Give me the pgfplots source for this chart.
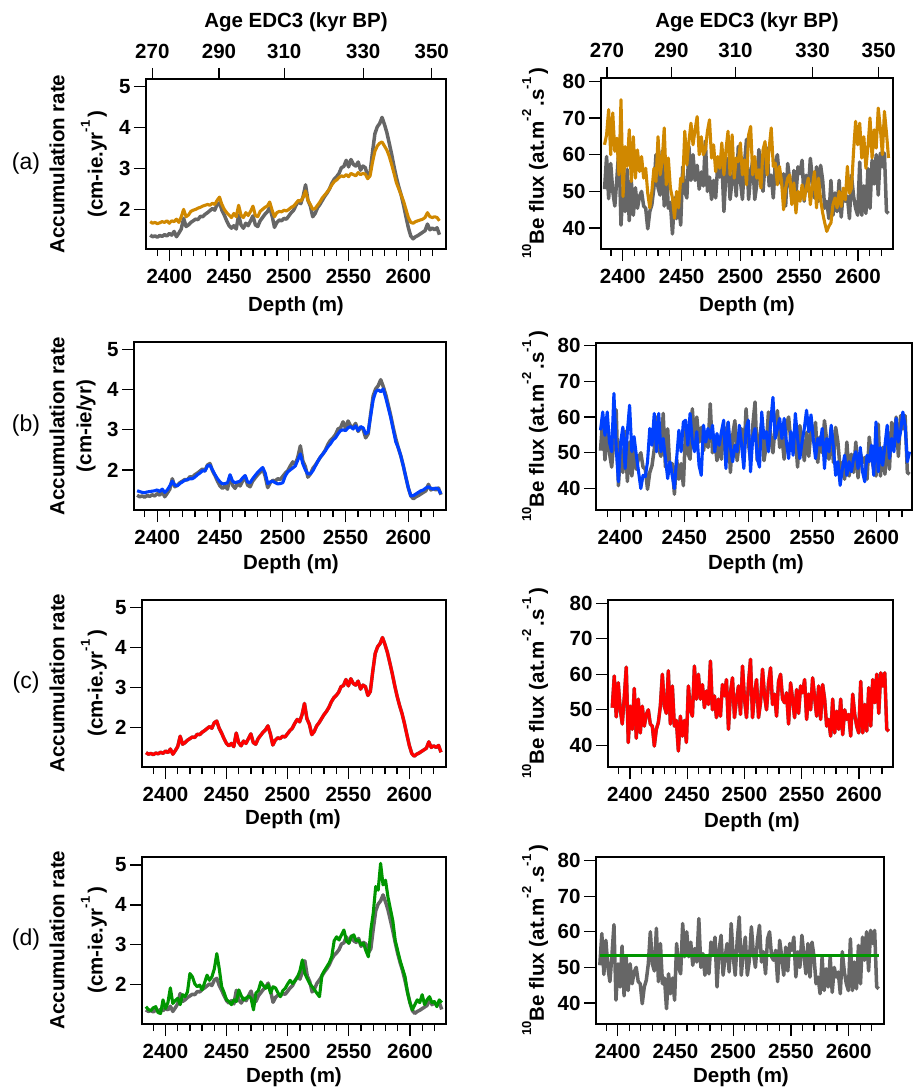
\documentclass[border=0pt]{standalone}
\usepackage{pgfplots}
\pgfplotsset{compat=1.18}
\usepackage{pgfplotstable}
\usepackage{fontspec}
\setmainfont{Liberation Sans}

\definecolor{dgray}{RGB}{102,102,102}
\definecolor{orng}{RGB}{208,136,0}
\definecolor{blu}{RGB}{0,64,255}
\definecolor{rd}{RGB}{255,0,0}
\definecolor{grn}{RGB}{0,150,0}

\newcommand{\tf}{\fontsize{20.5}{24}\selectfont\bfseries}
\newcommand{\sps}[1]{\raisebox{0.62em}{\fontsize{13}{13}\selectfont #1}}

% accumulation rates: d, gray reference, orange (a), blue (b), green (d)
\pgfplotstableread{
d A0 Aa Ab Ad
2384 1.37 1.70 1.48 1.45
2386 1.33 1.66 1.46 1.38
2388 1.35 1.68 1.44 1.35
2390 1.32 1.65 1.43 1.42
2392 1.36 1.67 1.45 1.45
2394 1.34 1.70 1.46 1.30
2396 1.38 1.68 1.47 1.28
2398 1.35 1.72 1.48 1.62
2400 1.41 1.66 1.50 1.40
2402 1.37 1.72 1.46 1.55
2404 1.46 1.70 1.52 1.92
2406 1.33 1.76 1.44 1.53
2408 1.42 1.68 1.50 1.60
2410 1.52 1.82 1.60 1.66
2412 1.78 2.00 1.72 1.50
2414 1.58 1.82 1.62 1.75
2416 1.62 1.86 1.60 1.70
2418 1.68 1.95 1.66 1.82
2420 1.72 1.98 1.70 2.28
2422 1.76 2.00 1.74 2.20
2424 1.75 2.03 1.76 2.02
2426 1.83 2.05 1.78 1.95
2428 1.82 2.08 1.78 1.99
2430 1.88 2.10 1.82 1.87
2432 1.92 2.12 1.88 2.05
2434 1.97 2.10 1.92 2.24
2436 2.02 2.15 1.98 2.11
2438 1.98 2.12 1.97 2.20
2440 2.12 2.22 2.10 2.40
2442 2.16 2.30 2.12 2.78
2444 1.98 2.12 2.00 2.40
2446 1.86 2.00 1.88 1.95
2448 1.72 1.92 1.78 1.80
2450 1.60 1.86 1.70 1.62
2452 1.54 1.80 1.65 1.58
2454 1.60 1.90 1.66 1.50
2456 1.52 1.82 1.68 1.62
2458 1.86 2.10 1.88 1.58
2460 1.62 1.86 1.72 1.87
2462 1.54 1.80 1.68 1.72
2464 1.66 1.92 1.70 1.62
2466 1.60 1.85 1.72 1.66
2468 1.72 1.95 1.80 1.72
2470 1.84 2.08 1.86 1.66
2472 1.62 1.85 1.70 1.37
2474 1.58 1.82 1.68 1.79
2476 1.72 1.95 1.78 1.85
2478 1.80 2.00 1.86 2.07
2480 1.88 2.05 1.94 1.98
2482 1.94 2.08 2.00 1.91
2484 2.04 2.18 2.06 2.00
2486 1.84 1.98 1.92 1.79
2488 1.56 1.82 1.66 1.95
2490 1.68 1.92 1.70 1.92
2492 1.74 1.95 1.72 1.80
2494 1.72 1.94 1.68 1.70
2496 1.78 1.98 1.65 1.85
2498 1.76 1.96 1.66 1.91
2500 1.84 2.00 1.68 2.02
2502 1.92 2.05 1.85 2.11
2504 1.98 2.08 1.95 2.03
2506 2.10 2.15 2.00 2.10
2508 2.20 2.22 2.05 2.19
2510 2.14 2.20 2.10 2.35
2512 2.32 2.30 2.25 2.62
2514 2.60 2.45 2.40 2.28
2516 2.22 2.22 2.15 2.15
2518 2.08 2.12 2.00 2.03
2520 1.82 2.00 1.90 1.95
2522 1.90 2.02 1.90 1.87
2524 2.04 2.10 1.98 1.78
2526 2.12 2.18 2.10 1.70
2528 2.22 2.28 2.22 2.24
2530 2.32 2.35 2.32 2.35
2532 2.40 2.42 2.40 2.45
2534 2.50 2.50 2.48 2.55
2536 2.64 2.60 2.58 2.70
2538 2.74 2.68 2.65 3.10
2540 2.80 2.72 2.75 3.20
2542 2.88 2.78 2.80 3.12
2544 3.02 2.82 2.90 3.25
2546 3.05 2.80 2.98 3.37
2548 3.20 2.85 3.00 3.10
2550 3.04 2.80 2.98 3.04
2552 3.22 2.88 3.05 3.20
2554 3.10 2.85 3.08 3.25
2556 3.06 2.82 3.02 3.10
2558 3.16 2.90 3.10 3.12
2560 2.96 2.85 2.98 3.00
2562 3.06 2.88 3.08 3.04
2564 3.02 2.86 3.05 2.85
2566 2.80 2.75 2.90 2.70
2568 2.90 2.82 2.95 3.37
2570 3.40 3.15 3.35 3.80
2572 3.85 3.42 3.75 4.46
2574 4.02 3.55 3.95 4.37
2576 4.10 3.62 4.00 5.04
2578 4.25 3.65 3.95 4.50
2580 4.08 3.55 4.02 4.62
2582 3.88 3.45 3.80 4.20
2584 3.62 3.30 3.55 3.90
2586 3.35 3.10 3.30 3.60
2588 3.05 2.88 3.00 3.10
2590 2.78 2.65 2.70 2.85
2592 2.55 2.50 2.55 2.60
2594 2.35 2.35 2.35 2.40
2596 2.10 2.20 2.10 2.20
2598 1.82 2.00 1.82 1.80
2600 1.55 1.80 1.55 1.55
2602 1.35 1.68 1.35 1.37
2604 1.28 1.66 1.36 1.50
2606 1.33 1.70 1.40 1.62
2608 1.36 1.72 1.44 1.55
2610 1.40 1.74 1.48 1.75
2612 1.44 1.76 1.50 1.50
2614 1.48 1.80 1.55 1.62
2616 1.64 1.92 1.58 1.70
2618 1.50 1.82 1.54 1.55
2620 1.54 1.80 1.52 1.58
2622 1.50 1.82 1.55 1.45
2624 1.55 1.80 1.52 1.62
2626 1.38 1.72 1.40 1.55
}\acc

% 10Be flux: d, gray reference, orange (a), blue (b)
\pgfplotstableread{
d F0 Fa Fb
2384.5 50.6 62.7 56.3
2386.25 59.5 65.4 61.4
2388 48 72.3 54.9
2389.75 57.6 60 61.4
2391.5 50 71.4 53.0
2393.25 46 60.9 50.3
2395 53.5 64.5 66.6
2396.75 62 54.5 51.5
2398.5 40.8 75 41.9
2400.25 51 48.6 53.0
2402 44.5 62.2 57.2
2403.75 56 56.8 45.6
2405.5 42 66.8 55.9
2407.25 53 52.7 63.3
2409 43.5 64.9 50.3
2410.75 51 53.6 54.5
2412.5 45.4 61.3 49.3
2414.25 48.7 55.4 44.7
2416 50 59.5 40.0
2417.75 46 53.6 43.7
2419.5 45.4 56.3 43.3
2421.25 39.8 49.5 47.5
2423 44.5 45.5 56.8
2424.75 46.4 50 52.1
2426.5 51 56.3 61.0
2428.25 60 52.7 50.3
2430 51 64.9 61.0
2431.75 49 54.5 50.3
2433.5 61 58.1 54.0
2435.25 46 67.3 48.4
2437 56.7 51.8 42.8
2438.75 45.4 59.1 47.5
2440.5 47 50.9 43.7
2442.25 38.4 48.2 40.0
2444 48.2 42.7 48.4
2445.75 42.6 50 56.3
2447.5 47 45.5 50.3
2449.25 40.8 53.6 58.6
2451 56.7 52.7 59.1
2452.75 50 66.4 52.1
2454.5 48.2 57.2 61.0
2456.25 62.3 63.6 53.0
2458 53 68.6 50.3
2459.75 60 62.7 55.9
2461.5 53 66.8 46.5
2463.25 57.1 70.4 43.7
2465 50.6 60 57.7
2466.75 55.3 64.9 53.0
2468.5 51.5 60 56.8
2470.25 63.7 61.3 54.0
2472 50 66.4 57.7
2473.75 53.9 69.5 50.3
2475.5 47.8 59.1 55.4
2477.25 53 62.7 52.1
2479 48.2 55.4 55.9
2480.75 57.1 59.5 59.1
2482.5 53.9 56.3 45.6
2484.25 58.5 63.2 58.6
2486 44.5 54.5 51.5
2487.75 54.8 61.3 47.5
2489.5 59 66.4 52.1
2491.25 47.8 54.5 50.3
2493 53 65.4 57.7
2494.75 56.7 53.6 52.1
2496.5 48.7 59.1 45.6
2498.25 62.3 58.1 56.8
2500 53 63.2 59.1
2501.75 47.8 54.5 44.7
2503.5 57.6 58.6 54.5
2505.25 64.2 51.8 56.8
2507 47.8 65.4 48.4
2508.75 54.4 67.7 46.0
2510.5 58.5 54.5 61.4
2512.25 47.8 59.5 54.0
2514 52 53.6 55.9
2515.75 61.4 55.9 50.3
2517.5 53.9 50.9 58.6
2519.25 50 61.3 65.5
2521 57.6 63.6 54.0
2522.75 61.8 54.5 56.8
2524.5 51.5 61.8 59.6
2526.25 54.4 67.3 54.0
2528 48.2 56.8 59.6
2529.75 58 57.7 53.0
2531.5 60 51.8 48.4
2533.25 53 56.8 55.9
2535 52 52.7 49.3
2536.75 54.8 45 61.0
2538.5 46 50.9 54.0
2540.25 57.6 53.6 48.4
2542 53 54.5 53.0
2543.75 47.8 46.4 56.8
2545.5 55.7 52.3 61.9
2547.25 49 44.1 55.9
2549 56.7 50 60.6
2550.75 54.8 47.3 54.0
2552.5 58.5 51.8 48.4
2554.25 47.3 47.7 54.0
2556 54.4 50.9 52.1
2557.75 50 53.6 56.8
2559.5 59 46.4 45.6
2561.25 53.4 51.3 54.0
2563 48.2 55.4 50.3
2564.75 56.7 45.5 57.7
2566.5 47.3 53.6 51.5
2568.25 57.1 47.7 43.7
2570 53 44.1 47.5
2571.75 45.4 41.4 40.9
2573.5 47.3 39.1 45.6
2575.25 42.6 40.5 49.3
2577 53 41.4 43.7
2578.75 43.5 46.4 47.5
2580.5 49.6 48.2 44.7
2582.25 44.5 45.5 48.4
2584 53 50 50.3
2585.75 43 45.9 45.6
2587.5 50 50.9 51.5
2589.25 47.3 47.7 44.7
2591 48.7 56.8 41.9
2592.75 42.6 49.5 49.3
2594.5 54.4 50.9 47.5
2596.25 48.7 60.9 52.1
2598 45.4 69.1 43.7
2599.75 43.5 62.7 58.6
2601.5 58 68.6 44.7
2603.25 43.5 59.1 51.5
2605 51.5 64.9 46.5
2606.75 44 56.3 52.1
2608.5 56.2 62.2 57.7
2610.25 45.4 70 48.4
2612 58.5 59.1 54.0
2613.75 52 66.8 50.3
2615.5 60 61.8 59.6
2617.25 49 72.7 53.0
2619 60.4 67.3 55.9
2620.75 56.7 60 61.4
2622.5 60.4 71.8 57.7
2624.25 44.5 65.9 47.5
2626 44 59.1 50.3
}\flux

\pgfplotsset{
  frame/.style={
    scale only axis, anchor=south west,
    axis line style={line width=1.3pt},
    every tick/.style={black, line width=1.3pt},
    tick align=outside,
    tick label style={font=\tf},
    /pgf/number format/1000 sep={},
    /pgf/number format/assume math mode=true,
  },
  panel/.style={frame,
    xtick pos=left, ytick pos=left,
    major tick length=12pt,
    xtick={2400,2450,...,2600},
    minor tick num=0,
    xticklabel style={yshift=-5pt},
  },
  accp/.style={panel, ytick={2,3,4,5}},
  fluxp/.style={panel, ytick={40,50,60,70,80}},
  minp/.style={frame, xtick pos=left, major tick length=7pt,
    ymin=0, ymax=1, ytick=\empty,
    xtick={2390,2410,2420,2430,2440,2460,2470,2480,2490,2510,2520,2530,2540,2560,2570,2580,2590,2610,2620},
    xticklabels={}},
  agep/.style={frame, xtick pos=right, xticklabel pos=right,
    major tick length=11pt, ymin=0, ymax=1, ytick=\empty,
    xticklabels={270,290,310,330,350},
    xticklabel style={yshift=6pt}},
  gl/.style={dgray, line width=3.5pt, line join=round},
  cl/.style={line width=3.1pt, line join=round},
}

% minor-tick overlay: #1 = x, #2 = y (bottom), #3 width, #4 height, #5 xmin, #6 xmax
\newcommand{\minorax}[6]{%
  \begin{axis}[minp, at={(#1pt,-#2pt)}, width=#3pt, height=#4pt, xmin=#5, xmax=#6]
  \end{axis}}

\begin{document}
\begin{tikzpicture}
\path[use as bounding box] (0pt,0pt) rectangle (914pt,-1089pt);

% ---------- row (a) ----------
\begin{axis}[accp, at={(146pt,-249pt)}, width=300pt, height=170pt,
  xmin=2380.5, xmax=2631.5, ymin=1.03, ymax=5.19]
\addplot[gl] table[x=d,y=A0] {\acc};
\addplot[cl, orng] table[x=d,y=Aa] {\acc};
\end{axis}
\minorax{146}{249}{300}{170}{2380.5}{2631.5}
\begin{axis}[agep, at={(146pt,-249pt)}, width=300pt, height=170pt,
  xmin=2380.5, xmax=2631.5, xtick={2385.8,2441.6,2496.2,2562.3,2619.6}]
\end{axis}

\begin{axis}[fluxp, at={(601pt,-249pt)}, width=292pt, height=171pt,
  xmin=2381.5, xmax=2629.8, ymin=34.3, ymax=80.9]
\addplot[gl] table[x=d,y=F0] {\flux};
\addplot[cl, orng] table[x=d,y=Fa] {\flux};
\end{axis}
\minorax{601}{249}{292}{171}{2381.5}{2629.8}
\begin{axis}[agep, at={(601pt,-249pt)}, width=292pt, height=171pt,
  xmin=2381.5, xmax=2629.8, xtick={2386.6,2441.4,2495.9,2561.4,2617.7}]
\end{axis}

% ---------- row (b) ----------
\begin{axis}[accp, at={(134pt,-510pt)}, width=312pt, height=168pt,
  xmin=2381.5, xmax=2630, ymin=1.0, ymax=5.19]
\addplot[gl] table[x=d,y=A0] {\acc};
\addplot[cl, blu] table[x=d,y=Ab] {\acc};
\end{axis}
\minorax{134}{510}{312}{168}{2381.5}{2630}
\begin{axis}[fluxp, at={(596pt,-510pt)}, width=316pt, height=167pt,
  xmin=2381, xmax=2627.9, ymin=34.0, ymax=80.7]
\addplot[gl] table[x=d,y=F0] {\flux};
\addplot[cl, blu] table[x=d,y=Fb] {\flux};
\end{axis}
\minorax{596}{510}{316}{167}{2381}{2627.9}

% ---------- row (c) ----------
\begin{axis}[accp, at={(142pt,-767pt)}, width=304pt, height=167pt,
  xmin=2380.7, xmax=2630.1, ymin=1.01, ymax=5.19]
\addplot[gl] table[x=d,y=A0] {\acc};
\addplot[cl, rd] table[x=d,y=A0] {\acc};
\end{axis}
\minorax{142}{767}{304}{167}{2380.7}{2630.1}
\begin{axis}[fluxp, at={(608pt,-767pt)}, width=285pt, height=167pt,
  xmin=2380.8, xmax=2629.7, ymin=33.9, ymax=80.9]
\addplot[gl] table[x=d,y=F0] {\flux};
\addplot[cl, rd] table[x=d,y=F0] {\flux};
\end{axis}
\minorax{608}{767}{285}{167}{2380.8}{2629.7}

% ---------- row (d) ----------
\begin{axis}[accp, at={(142pt,-1024pt)}, width=304pt, height=167pt,
  xmin=2380.8, xmax=2629.5, ymin=1.015, ymax=5.2]
\addplot[gl] table[x=d,y=A0] {\acc};
\addplot[cl, grn] table[x=d,y=Ad] {\acc};
\end{axis}
\minorax{142}{1024}{304}{167}{2380.8}{2629.5}
\begin{axis}[fluxp, at={(596pt,-1024pt)}, width=288pt, height=167pt,
  xmin=2381.2, xmax=2630.6, ymin=34.1, ymax=81.0]
\addplot[gl] table[x=d,y=F0] {\flux};
\addplot[cl, grn] coordinates {(2384.4,53.4) (2626.6,53.4)};
\end{axis}
\minorax{596}{1024}{288}{167}{2381.2}{2630.6}

% ---------- titles and labels ----------
\node[font=\tf] at (296pt,-22pt) {Age EDC3 (kyr BP)};
\node[font=\tf] at (747pt,-22pt) {Age EDC3 (kyr BP)};

\foreach \cx/\cy in {296/306, 747/306, 291/564, 756/564, 293/819, 752/822, 294/1077, 741/1077}
  \node[font=\tf, inner sep=1pt] at (\cx pt,-\cy pt) {Depth (m)};

\foreach \lab/\cy in {a/164, b/426, c/683, d/940}
  \node[font=\fontsize{23}{26}\selectfont] at (26pt,-\cy pt) {(\lab)};

\node[rotate=90, font=\tf] at (57pt,-164pt) {Accumulation rate};
\node[rotate=90, font=\tf] at (94pt,-164pt) {(cm-ie.yr\sps{-1}\,)};
\node[rotate=90, font=\tf] at (57pt,-426pt) {Accumulation rate};
\node[rotate=90, font=\tf] at (86pt,-426pt) {(cm-ie/yr)};
\node[rotate=90, font=\tf] at (57pt,-683pt) {Accumulation rate};
\node[rotate=90, font=\tf] at (94pt,-683pt) {(cm-ie.yr\sps{-1}\,)};
\node[rotate=90, font=\tf] at (57pt,-940pt) {Accumulation rate};
\node[rotate=90, font=\tf] at (94pt,-940pt) {(cm-ie.yr\sps{-1}\,)};

\foreach \cy in {163, 426, 683, 940}
  \node[rotate=90, font=\tf] at (535pt,-\cy pt) {\sps{10}Be flux (at.m\sps{-2}\,.s\sps{-1}\,)};
\end{tikzpicture}
\end{document}
